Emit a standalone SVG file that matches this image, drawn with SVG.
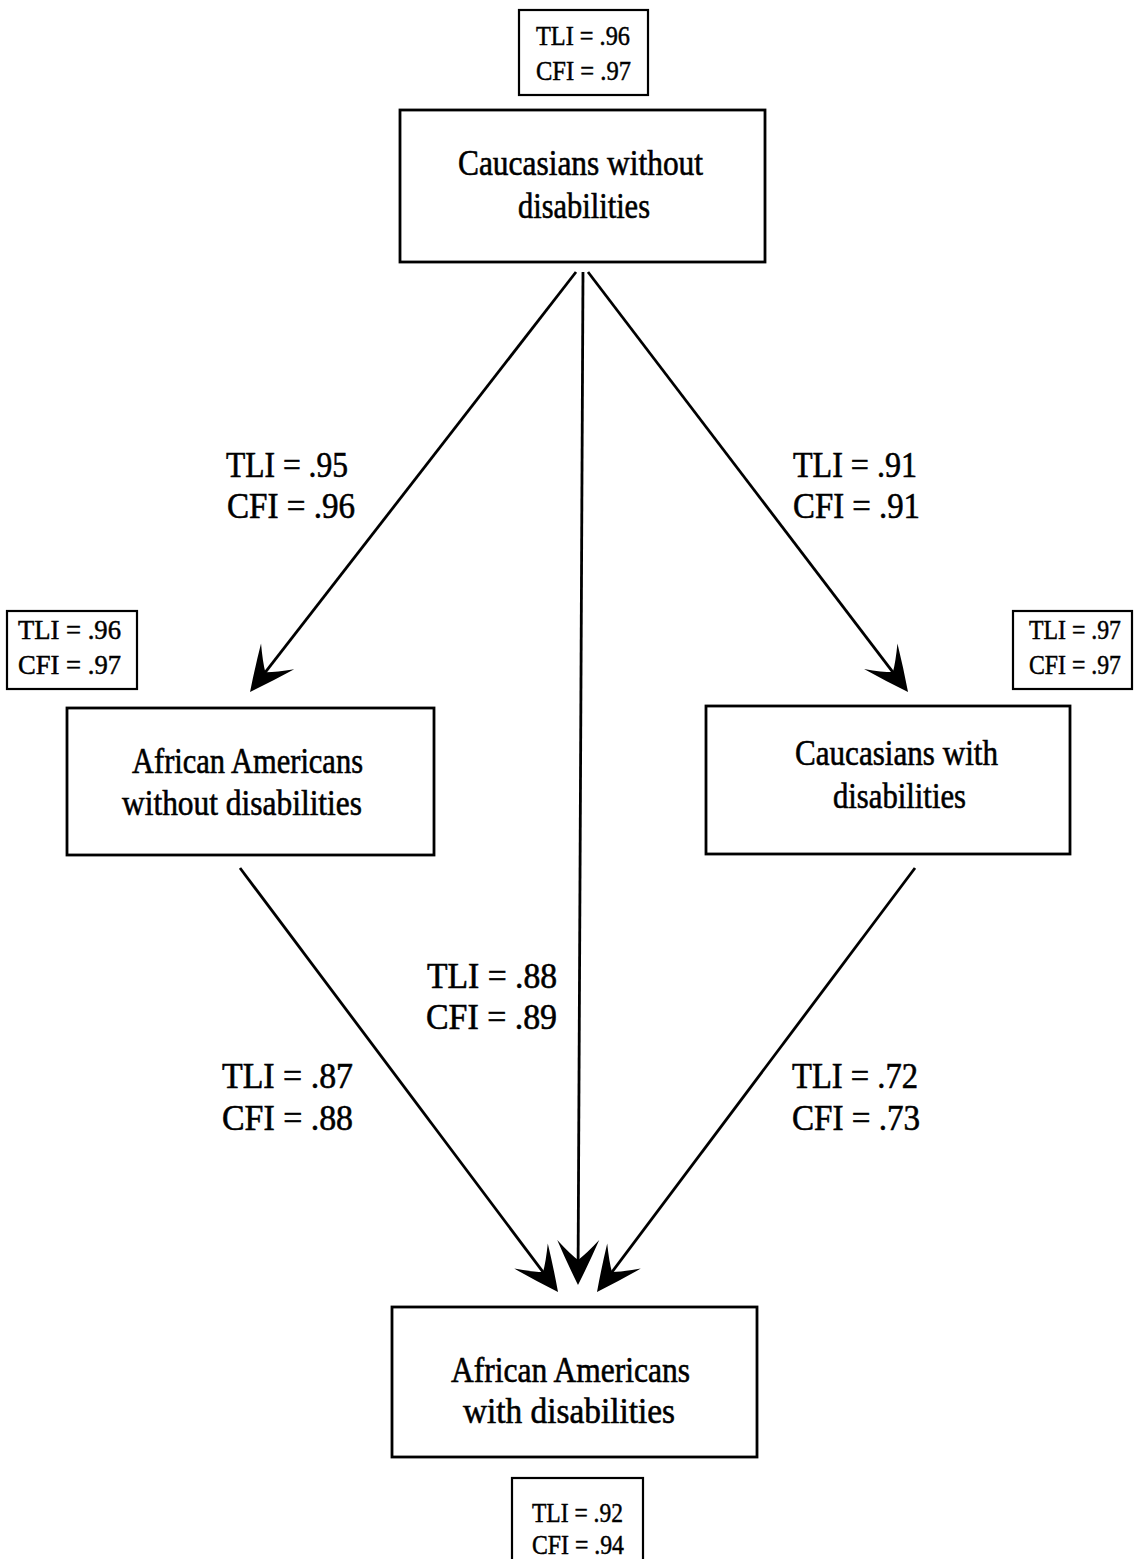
<svg xmlns="http://www.w3.org/2000/svg" width="1136" height="1559" viewBox="0 0 1136 1559">
  <style>
    .box { fill: #fff; stroke: #000; stroke-width: 2.8; }
    .fit { fill: #fff; stroke: #000; stroke-width: 2.2; }
    .lbl { font-family: "Liberation Serif", "Times New Roman", serif; font-size: 36px; fill: #000; stroke: #000; stroke-width: 0.6; }
    .sm { font-family: "Liberation Serif", "Times New Roman", serif; font-size: 28px; fill: #000; stroke: #000; stroke-width: 0.5; }
    .edge { fill: none; stroke: #000; stroke-width: 2.8; marker-end: url(#barb); }
  </style>
  <defs>
    <!-- barbed dart arrowhead; tip sits 20 units ahead of the line end -->
    <marker id="barb" markerUnits="userSpaceOnUse" orient="auto" refX="-20" refY="0" markerWidth="60" markerHeight="60" overflow="visible">
      <path d="M0,0 Q-22,-11 -45,-21 Q-31,-8 -25,0 Q-31,8 -45,21 Q-22,11 0,0 Z" fill="#000"/>
    </marker>
  </defs>

  <rect width="1136" height="1559" fill="#fff"/>

  <!-- connectors -->
  <g id="connectors">
    <line class="edge" x1="576" y1="272" x2="262.3" y2="676.2"/>
    <line class="edge" x1="588" y1="272" x2="895.9" y2="676.1"/>
    <line class="edge" x1="583" y1="272" x2="578.1" y2="1265"/>
    <line class="edge" x1="240" y1="868" x2="546" y2="1276"/>
    <line class="edge" x1="915" y1="868" x2="609" y2="1276"/>
  </g>

  <!-- edge fit labels -->
  <g id="edge-labels">
    <text class="lbl" x="226" y="477" textLength="122" lengthAdjust="spacingAndGlyphs">TLI = .95</text>
    <text class="lbl" x="227" y="518" textLength="128" lengthAdjust="spacingAndGlyphs">CFI = .96</text>
    <text class="lbl" x="793" y="477" textLength="124" lengthAdjust="spacingAndGlyphs">TLI = .91</text>
    <text class="lbl" x="793" y="518" textLength="127" lengthAdjust="spacingAndGlyphs">CFI = .91</text>
    <text class="lbl" x="427" y="988" textLength="130" lengthAdjust="spacingAndGlyphs">TLI = .88</text>
    <text class="lbl" x="426" y="1029" textLength="131" lengthAdjust="spacingAndGlyphs">CFI = .89</text>
    <text class="lbl" x="222" y="1088" textLength="131" lengthAdjust="spacingAndGlyphs">TLI = .87</text>
    <text class="lbl" x="222" y="1130" textLength="131" lengthAdjust="spacingAndGlyphs">CFI = .88</text>
    <text class="lbl" x="792" y="1088" textLength="126" lengthAdjust="spacingAndGlyphs">TLI = .72</text>
    <text class="lbl" x="792" y="1130" textLength="128" lengthAdjust="spacingAndGlyphs">CFI = .73</text>
  </g>

  <!-- group nodes -->
  <g id="node-cauc-without">
    <rect class="box" x="400" y="110" width="365" height="152"/>
    <text class="lbl" x="458" y="175" textLength="245" lengthAdjust="spacingAndGlyphs">Caucasians without</text>
    <text class="lbl" x="518" y="218" textLength="132" lengthAdjust="spacingAndGlyphs">disabilities</text>
    <rect class="fit" x="519" y="10" width="129" height="85"/>
    <text class="sm" x="536" y="45" textLength="94" lengthAdjust="spacingAndGlyphs">TLI = .96</text>
    <text class="sm" x="536" y="80" textLength="95" lengthAdjust="spacingAndGlyphs">CFI = .97</text>
  </g>

  <g id="node-aa-without">
    <rect class="box" x="67" y="708" width="367" height="147"/>
    <text class="lbl" x="132" y="773" textLength="231" lengthAdjust="spacingAndGlyphs">African Americans</text>
    <text class="lbl" x="122" y="815" textLength="240" lengthAdjust="spacingAndGlyphs">without disabilities</text>
    <rect class="fit" x="7" y="611" width="130" height="78"/>
    <text class="sm" x="18" y="639" textLength="103" lengthAdjust="spacingAndGlyphs">TLI = .96</text>
    <text class="sm" x="18" y="674" textLength="103" lengthAdjust="spacingAndGlyphs">CFI = .97</text>
  </g>

  <g id="node-cauc-with">
    <rect class="box" x="706" y="706" width="364" height="148"/>
    <text class="lbl" x="795" y="765" textLength="203" lengthAdjust="spacingAndGlyphs">Caucasians with</text>
    <text class="lbl" x="833" y="808" textLength="133" lengthAdjust="spacingAndGlyphs">disabilities</text>
    <rect class="fit" x="1013" y="611" width="119" height="78"/>
    <text class="sm" x="1029" y="639" textLength="92" lengthAdjust="spacingAndGlyphs">TLI = .97</text>
    <text class="sm" x="1029" y="674" textLength="92" lengthAdjust="spacingAndGlyphs">CFI = .97</text>
  </g>

  <g id="node-aa-with">
    <rect class="box" x="392" y="1307" width="365" height="150"/>
    <text class="lbl" x="451" y="1382" textLength="239" lengthAdjust="spacingAndGlyphs">African Americans</text>
    <text class="lbl" x="463" y="1423" textLength="212" lengthAdjust="spacingAndGlyphs">with disabilities</text>
    <rect class="fit" x="512" y="1478" width="131" height="100"/>
    <text class="sm" x="532" y="1522" textLength="91" lengthAdjust="spacingAndGlyphs">TLI = .92</text>
    <text class="sm" x="532" y="1554" textLength="92" lengthAdjust="spacingAndGlyphs">CFI = .94</text>
  </g>
</svg>
